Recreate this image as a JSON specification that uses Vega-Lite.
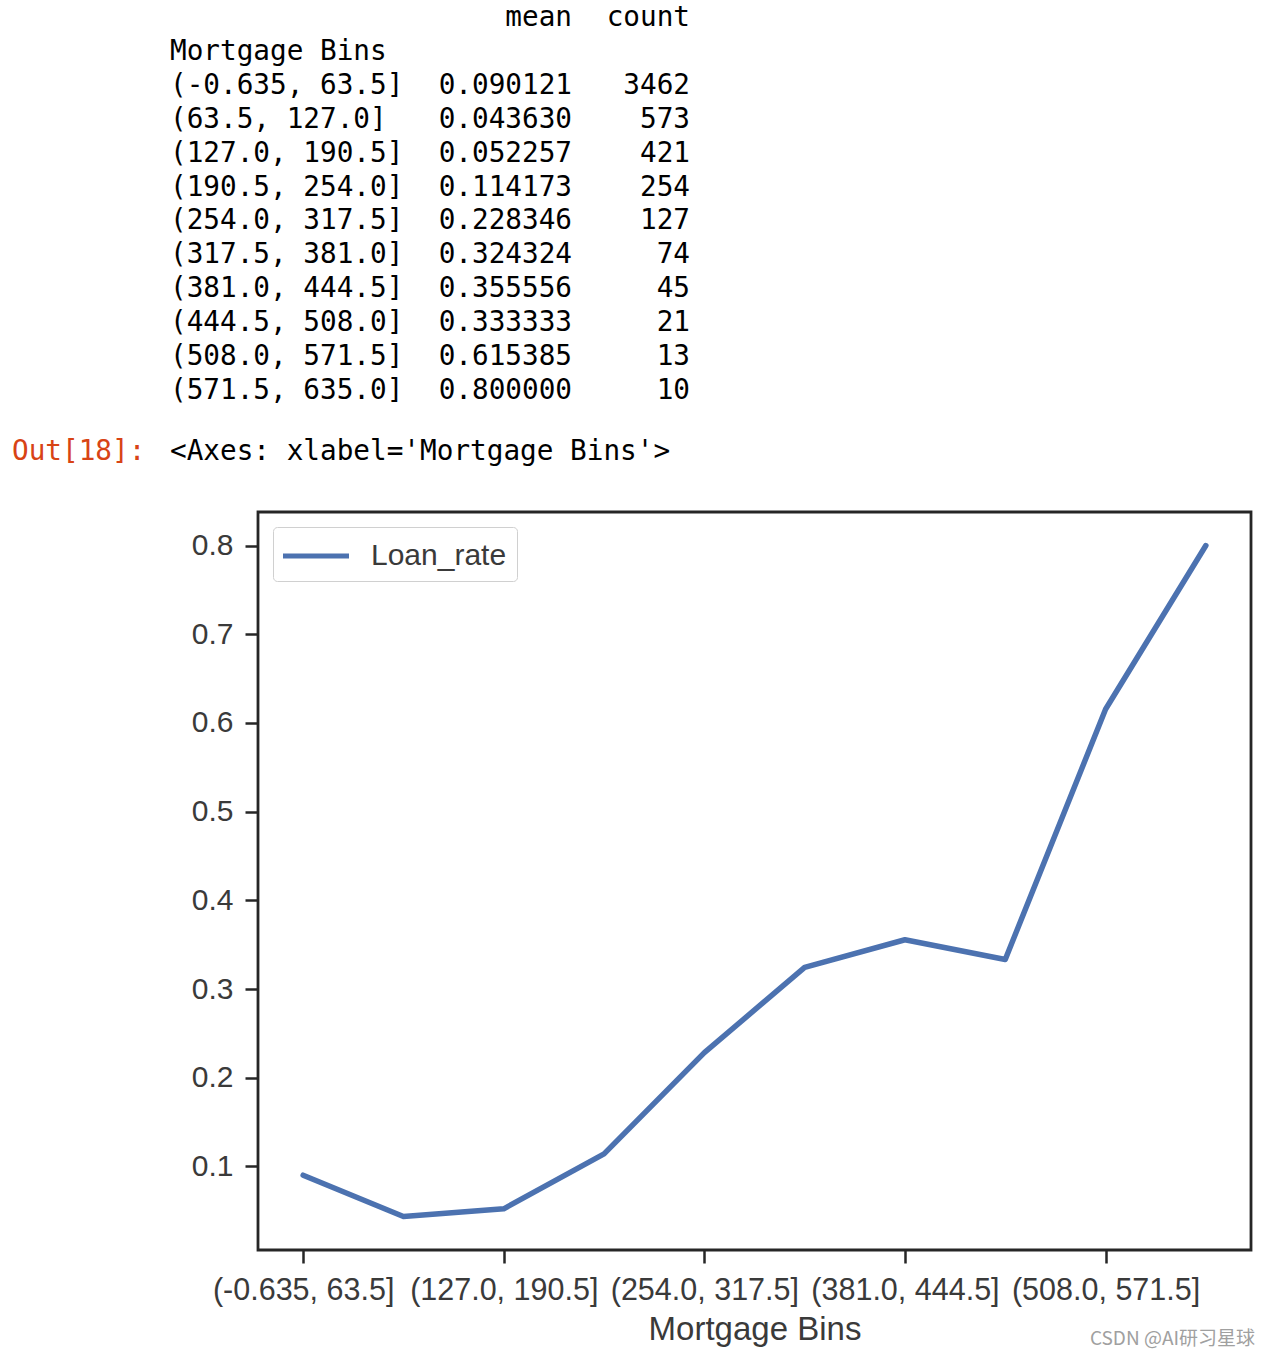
{
  "$schema": "https://vega.github.io/schema/vega-lite/v6.json",
  "autosize": "none",
  "width": 993,
  "height": 738,
  "padding": {"left": 258, "top": 512, "right": 19, "bottom": 108},
  "background": "white",
  "title": {
    "text": "CSDN @AI研习星球",
    "orient": "bottom",
    "anchor": "end",
    "frame": "group",
    "offset": -17,
    "fontSize": 19,
    "fontWeight": "normal",
    "font": "Noto Sans CJK SC",
    "color": "#a0a0a0",
    "dx": 4
  },
  "datasets": {
    "plot": [
      {"bin": "(-0.635, 63.5]", "Loan_rate": 0.090121},
      {"bin": "(63.5, 127.0]", "Loan_rate": 0.04363},
      {"bin": "(127.0, 190.5]", "Loan_rate": 0.052257},
      {"bin": "(190.5, 254.0]", "Loan_rate": 0.114173},
      {"bin": "(254.0, 317.5]", "Loan_rate": 0.228346},
      {"bin": "(317.5, 381.0]", "Loan_rate": 0.324324},
      {"bin": "(381.0, 444.5]", "Loan_rate": 0.355556},
      {"bin": "(444.5, 508.0]", "Loan_rate": 0.333333},
      {"bin": "(508.0, 571.5]", "Loan_rate": 0.615385},
      {"bin": "(571.5, 635.0]", "Loan_rate": 0.8}
    ],
    "table": [
      {"line": 0, "col": "mean", "text": "mean"},
      {"line": 0, "col": "count", "text": "count"},
      {"line": 1, "col": "index", "text": "Mortgage Bins"},
      {"line": 2, "col": "index", "text": "(-0.635, 63.5]"},
      {"line": 2, "col": "mean", "text": "0.090121"},
      {"line": 2, "col": "count", "text": "3462"},
      {"line": 3, "col": "index", "text": "(63.5, 127.0]"},
      {"line": 3, "col": "mean", "text": "0.043630"},
      {"line": 3, "col": "count", "text": "573"},
      {"line": 4, "col": "index", "text": "(127.0, 190.5]"},
      {"line": 4, "col": "mean", "text": "0.052257"},
      {"line": 4, "col": "count", "text": "421"},
      {"line": 5, "col": "index", "text": "(190.5, 254.0]"},
      {"line": 5, "col": "mean", "text": "0.114173"},
      {"line": 5, "col": "count", "text": "254"},
      {"line": 6, "col": "index", "text": "(254.0, 317.5]"},
      {"line": 6, "col": "mean", "text": "0.228346"},
      {"line": 6, "col": "count", "text": "127"},
      {"line": 7, "col": "index", "text": "(317.5, 381.0]"},
      {"line": 7, "col": "mean", "text": "0.324324"},
      {"line": 7, "col": "count", "text": "74"},
      {"line": 8, "col": "index", "text": "(381.0, 444.5]"},
      {"line": 8, "col": "mean", "text": "0.355556"},
      {"line": 8, "col": "count", "text": "45"},
      {"line": 9, "col": "index", "text": "(444.5, 508.0]"},
      {"line": 9, "col": "mean", "text": "0.333333"},
      {"line": 9, "col": "count", "text": "21"},
      {"line": 10, "col": "index", "text": "(508.0, 571.5]"},
      {"line": 10, "col": "mean", "text": "0.615385"},
      {"line": 10, "col": "count", "text": "13"},
      {"line": 11, "col": "index", "text": "(571.5, 635.0]"},
      {"line": 11, "col": "mean", "text": "0.800000"},
      {"line": 11, "col": "count", "text": "10"},
      {"line": 12, "col": "prompt", "text": "Out[18]:"},
      {"line": 12, "col": "index", "text": "<Axes: xlabel='Mortgage Bins'>"}
    ]
  },
  "layer": [
    {
      "data": {"name": "plot"},
      "mark": {"type": "line", "strokeWidth": 5.5, "strokeCap": "round", "strokeJoin": "round"},
      "encoding": {
        "x": {
          "field": "bin",
          "type": "ordinal",
          "sort": null,
          "scale": {"type": "point", "padding": 0.45},
          "axis": {
            "values": ["(-0.635, 63.5]", "(127.0, 190.5]", "(254.0, 317.5]", "(381.0, 444.5]", "(508.0, 571.5]"],
            "title": "Mortgage Bins",
            "labelAngle": 0,
            "labelOverlap": false,
            "labelLimit": 400,
            "domain": false,
            "grid": false,
            "ticks": true,
            "tickSize": 13,
            "tickWidth": 2.5,
            "tickColor": "#262626",
            "labelFont": "Liberation Sans",
            "labelFontSize": 30.5,
            "labelColor": "#3a3a3a",
            "labelPadding": 12,
            "titleFont": "Liberation Sans",
            "titleFontSize": 33,
            "titleFontWeight": "normal",
            "titleColor": "#3a3a3a",
            "titlePadding": 8
          }
        },
        "y": {
          "field": "Loan_rate",
          "type": "quantitative",
          "scale": {"domain": [0.00581, 0.8378], "nice": false, "zero": false},
          "axis": {
            "values": [0.1, 0.2, 0.3, 0.4, 0.5, 0.6, 0.7, 0.8],
            "format": ".1f",
            "title": null,
            "domain": false,
            "grid": false,
            "tickSize": 13,
            "tickWidth": 2.5,
            "tickColor": "#262626",
            "labelFont": "Liberation Sans",
            "labelFontSize": 30,
            "labelColor": "#3a3a3a",
            "labelPadding": 12
          }
        },
        "color": {
          "datum": "Loan_rate",
          "scale": {"range": ["#4C72B0"]},
          "legend": {
            "title": null,
            "orient": "top-left",
            "offset": 15,
            "padding": 10,
            "strokeColor": "#d0d0d0",
            "fillColor": "white",
            "cornerRadius": 4,
            "symbolType": "M-2,0H2",
            "symbolSize": 1089,
            "symbolStrokeWidth": 5,
            "symbolOffset": 14,
            "labelFont": "Liberation Sans",
            "labelFontSize": 30,
            "labelColor": "#3a3a3a",
            "labelOffset": 36
          }
        }
      }
    },
    {
      "data": {"name": "table"},
      "transform": [{"filter": "datum.col === 'prompt' || datum.col === 'index'"}],
      "mark": {"type": "text", "align": "left", "baseline": "middle", "font": "DejaVu Sans Mono", "fontSize": 27.7},
      "encoding": {
        "x": {"field": "col", "type": "nominal", "scale": {"type": "point", "domain": ["prompt", "index"], "range": [-246, -88], "padding": 0}, "axis": null},
        "y": {"field": "line", "type": "quantitative", "scale": {"domain": [0, 11, 12], "range": [-494, -121, -60], "zero": false, "nice": false}, "axis": null},
        "text": {"field": "text"},
        "color": {"field": "col", "type": "nominal", "scale": {"domain": ["prompt", "index"], "range": ["#D84315", "#000000"]}, "legend": null}
      }
    },
    {
      "data": {"name": "table"},
      "transform": [{"filter": "datum.col === 'mean' || datum.col === 'count'"}],
      "mark": {"type": "text", "align": "right", "baseline": "middle", "font": "DejaVu Sans Mono", "fontSize": 27.7, "color": "#000000"},
      "encoding": {
        "x": {"field": "col", "type": "nominal", "scale": {"type": "point", "domain": ["mean", "count"], "range": [314, 432], "padding": 0}, "axis": null},
        "y": {"field": "line", "type": "quantitative", "scale": {"domain": [0, 11, 12], "range": [-494, -121, -60], "zero": false, "nice": false}, "axis": null},
        "text": {"field": "text"}
      }
    }
  ],
  "resolve": {"scale": {"x": "independent", "y": "independent", "color": "independent"}},
  "config": {
    "view": {"stroke": "#262626", "strokeWidth": 2.8}
  }
}
